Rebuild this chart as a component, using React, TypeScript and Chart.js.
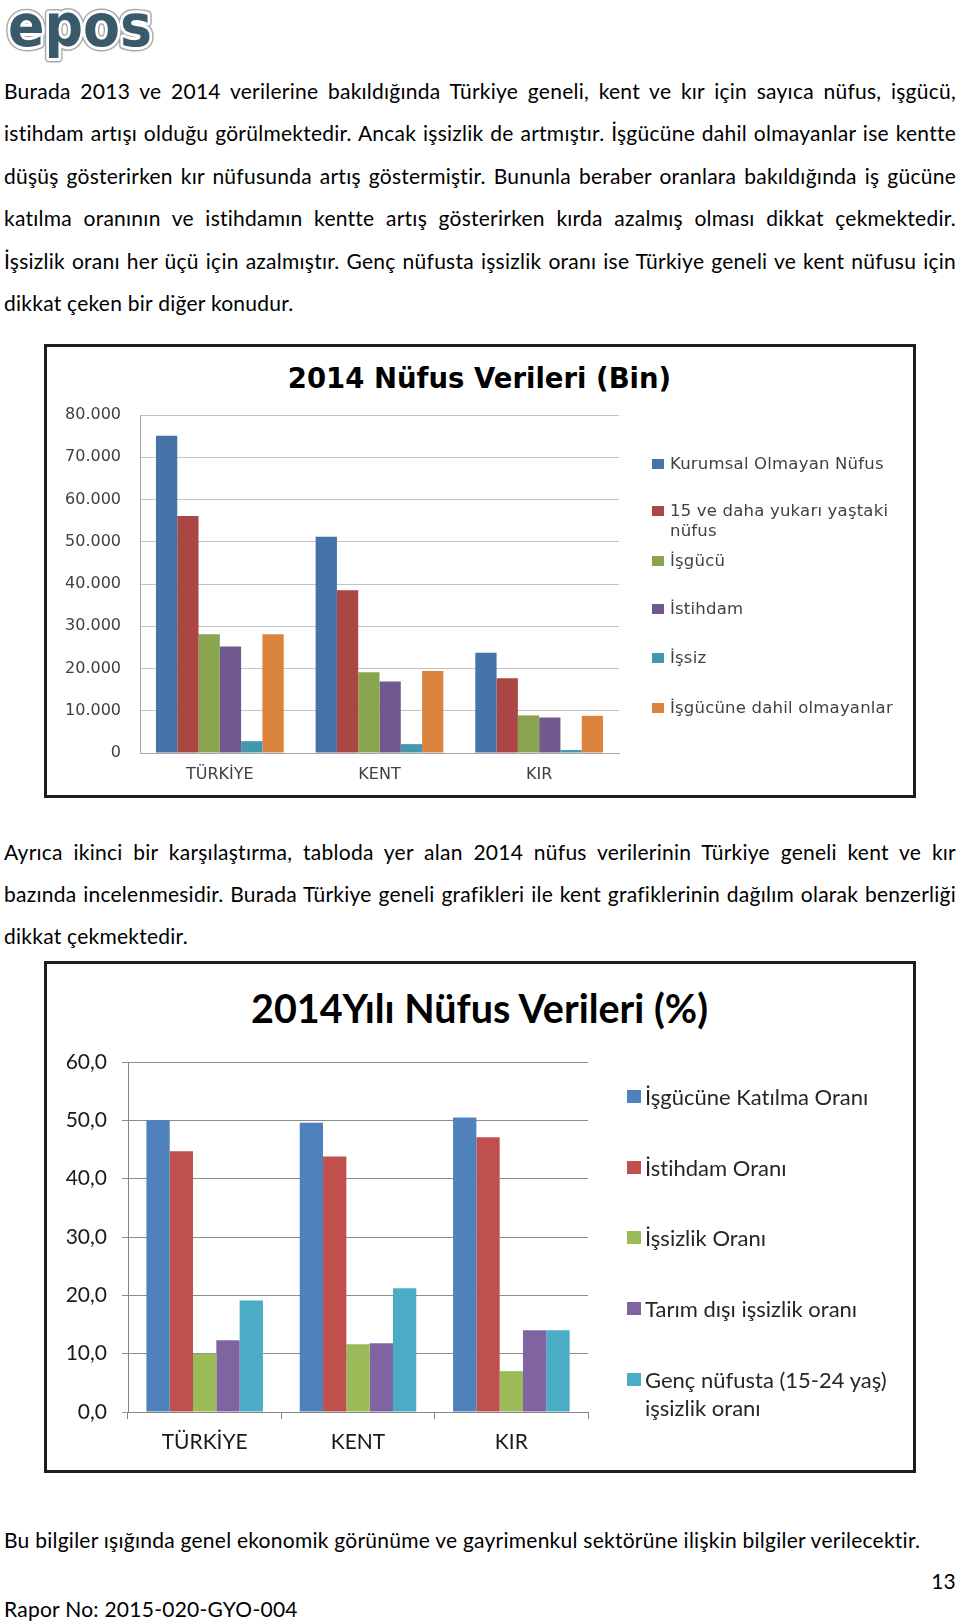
import React, { useEffect, useRef } from "react";
import { Chart, registerables } from "chart.js";

Chart.register(...registerables);

// ---------- Data ----------
const categories = ["TÜRKİYE", "KENT", "KIR"];

// Chart 1: 2014 Nüfus Verileri (Bin)
const popLabels = [
  "Kurumsal Olmayan Nüfus",
  "15 ve daha yukarı yaştaki nüfus",
  "İşgücü",
  "İstihdam",
  "İşsiz",
  "İşgücüne dahil olmayanlar",
];
const popLegendLines = [
  ["Kurumsal Olmayan Nüfus"],
  ["15 ve daha yukarı yaştaki", "nüfus"],
  ["İşgücü"],
  ["İstihdam"],
  ["İşsiz"],
  ["İşgücüne dahil olmayanlar"],
];
const kurumsalOlmayan = [75100, 51200, 23700];
const onbesYukari = [56100, 38500, 17700];
const isgucu = [28100, 19100, 8900];
const istihdam = [25200, 16900, 8400];
const issiz = [2800, 2100, 700];
const isgucuDisi = [28100, 19400, 8800];
const popColors = ["#4572A7", "#AA4643", "#89A54E", "#71588F", "#4198AF", "#DB843D"];
const popTicks = [0, 10000, 20000, 30000, 40000, 50000, 60000, 70000, 80000];

// Chart 2: 2014Yılı Nüfus Verileri (%)
const rateLabels = [
  "İşgücüne Katılma Oranı",
  "İstihdam Oranı",
  "İşsizlik Oranı",
  "Tarım dışı işsizlik oranı",
  "Genç nüfusta (15-24 yaş) işsizlik oranı",
];
const rateLegendLines = [
  ["İşgücüne Katılma Oranı"],
  ["İstihdam Oranı"],
  ["İşsizlik Oranı"],
  ["Tarım dışı işsizlik oranı"],
  ["Genç nüfusta (15-24 yaş)", "işsizlik oranı"],
];
const katilmaOrani = [50.0, 49.6, 50.5];
const istihdamOrani = [44.7, 43.8, 47.1];
const issizlikOrani = [10.0, 11.6, 7.0];
const tarimDisiOrani = [12.3, 11.8, 14.0];
const gencOrani = [19.1, 21.2, 14.0];
const rateColors = ["#4F81BD", "#C0504D", "#9BBB59", "#8064A2", "#4BACC6"];

const para1 = [
  "Burada 2013 ve 2014 verilerine bakıldığında Türkiye geneli, kent ve kır için sayıca nüfus, işgücü,",
  "istihdam artışı olduğu görülmektedir. Ancak işsizlik de artmıştır. İşgücüne dahil olmayanlar ise kentte",
  "düşüş gösterirken kır nüfusunda artış göstermiştir. Bununla beraber oranlara bakıldığında iş gücüne",
  "katılma oranının ve istihdamın kentte artış gösterirken kırda azalmış olması dikkat çekmektedir.",
  "İşsizlik oranı her üçü için azalmıştır. Genç nüfusta işsizlik oranı ise Türkiye geneli ve kent nüfusu için",
  "dikkat çeken bir diğer konudur.",
];
const para2 = [
  "Ayrıca ikinci bir karşılaştırma, tabloda yer alan 2014 nüfus verilerinin Türkiye geneli kent ve kır",
  "bazında incelenmesidir. Burada Türkiye geneli grafikleri ile kent grafiklerinin dağılım olarak benzerliği",
  "dikkat çekmektedir.",
];
const para3 = "Bu bilgiler ışığında genel ekonomik görünüme ve gayrimenkul sektörüne ilişkin bilgiler verilecektir.";

const TEXT_FONT = "Lato, 'Open Sans', sans-serif";

const textStyle: React.CSSProperties = {
  fontFamily: TEXT_FONT,
  fontSize: 21,
  letterSpacing: "0.25px",
  fontVariantLigatures: "none",
  color: "#000",
  whiteSpace: "nowrap",
};

function TextLine({ text, center, justify }: { text: string; center: number; justify: boolean }) {
  return (
    <div
      style={{
        ...textStyle,
        position: "absolute",
        left: 4,
        width: 952,
        top: center - 13,
        height: 26,
        lineHeight: "26px",
        textAlign: justify ? "justify" : "left",
        textAlignLast: justify ? "justify" : "left",
      } as React.CSSProperties}
    >
      {text}
    </div>
  );
}

function PopChart() {
  const ref = useRef<HTMLCanvasElement>(null);
  useEffect(() => {
    const series = [kurumsalOlmayan, onbesYukari, isgucu, istihdam, issiz, isgucuDisi];
    const chart = new Chart(ref.current!, {
      type: "bar",
      data: {
        labels: categories,
        datasets: series.map((d, i) => ({
          label: popLabels[i],
          data: d,
          backgroundColor: popColors[i],
          borderWidth: 0,
        })),
      },
      options: {
        animation: false,
        responsive: false,
        maintainAspectRatio: false,
        layout: { padding: { left: 0, right: 293, top: 68, bottom: 0 } },
        datasets: { bar: { categoryPercentage: 0.8, barPercentage: 1.0 } },
        plugins: { legend: { display: false }, title: { display: false }, tooltip: { enabled: false } },
        scales: {
          x: {
            grid: { display: false, drawTicks: false },
            border: { display: true, color: "#a6a6a6", width: 1 },
            ticks: { padding: 12, color: "#404040", font: { family: "DejaVu Sans", size: 16 } },
            afterFit: (s: any) => {
              s.height = 41;
            },
          },
          y: {
            min: 0,
            max: 80000,
            afterBuildTicks: (s: any) => {
              s.ticks = popTicks.map((v) => ({ value: v }));
            },
            grid: { color: "#c4c4c4", drawTicks: false },
            border: { display: true, color: "#a6a6a6", width: 1 },
            ticks: {
              padding: 19,
              color: "#404040",
              font: { family: "DejaVu Sans", size: 16 },
              callback: (v: any) => (v === 0 ? "0" : `${v / 1000}.000`),
            },
            afterFit: (s: any) => {
              s.width = 93;
            },
          },
        },
      },
    });
    return () => chart.destroy();
  }, []);
  return (
    <canvas
      ref={ref}
      width={865}
      height={447}
      style={{ position: "absolute", left: 47, top: 347, width: 865, height: 447 }}
    />
  );
}

function RateChart() {
  const ref = useRef<HTMLCanvasElement>(null);
  useEffect(() => {
    const series = [katilmaOrani, istihdamOrani, issizlikOrani, tarimDisiOrani, gencOrani];
    const chart = new Chart(ref.current!, {
      type: "bar",
      data: {
        labels: categories,
        datasets: series.map((d, i) => ({
          label: rateLabels[i],
          data: d,
          backgroundColor: rateColors[i],
          borderWidth: 0,
        })),
      },
      options: {
        animation: false,
        responsive: false,
        maintainAspectRatio: false,
        layout: { padding: { left: 0, right: 324, top: 98, bottom: 0 } },
        datasets: { bar: { categoryPercentage: 0.76, barPercentage: 1.0 } },
        plugins: { legend: { display: false }, title: { display: false }, tooltip: { enabled: false } },
        scales: {
          x: {
            grid: { display: true, drawOnChartArea: false, drawTicks: true, tickLength: 7, color: "#868686", offset: true },
            border: { display: true, color: "#868686", width: 1 },
            ticks: { padding: 11, color: "#1a1a1a", font: { family: "Lato", size: 21 } },
            afterFit: (s: any) => {
              s.height = 57;
            },
          },
          y: {
            min: 0,
            max: 60,
            ticks: {
              stepSize: 10,
              padding: 15,
              color: "#1a1a1a",
              font: { family: "Lato", size: 21 },
              callback: (v: any) => Number(v).toFixed(1).replace(".", ","),
            },
            grid: { color: "#8c8c8c", drawTicks: true, tickLength: 6 },
            border: { display: true, color: "#868686", width: 1 },
            afterFit: (s: any) => {
              s.width = 81;
            },
          },
        },
      },
    });
    return () => chart.destroy();
  }, []);
  return (
    <canvas
      ref={ref}
      width={865}
      height={505}
      style={{ position: "absolute", left: 47, top: 964, width: 865, height: 505 }}
    />
  );
}

function Logo() {
  const common = {
    x: 8,
    y: 46,
    fontFamily: "DejaVu Sans",
    fontWeight: 700,
    fontSize: 58,
    textLength: 144,
    lengthAdjust: "spacingAndGlyphs",
  } as any;
  return (
    <svg style={{ position: "absolute", left: 0, top: 0 }} width={170} height={70}>
      <text {...common} fill="#3a5a6b" stroke="#a8a8a8" strokeWidth={9} strokeLinejoin="round">
        epos
      </text>
      <text {...common} fill="#3a5a6b" stroke="#ffffff" strokeWidth={6} strokeLinejoin="round">
        epos
      </text>
      <text {...common} fill="#3a5a6b">
        epos
      </text>
    </svg>
  );
}

export default function App() {
  const p1Centers = para1.map((_, i) => 91 + i * 42.4);
  const p2Centers = para2.map((_, i) => 852.4 + i * 41.9);
  const legend1Centers = [463.5, 511, 560.7, 609.3, 658, 707.6];
  const legend2Centers = [1096.6, 1168, 1238.3, 1308.7, 1380];
  return (
    <div
      style={{
        position: "absolute",
        left: 0,
        top: 0,
        width: 960,
        height: 1622,
        background: "#fff",
        overflow: "hidden",
      }}
    >
      <Logo />
      {para1.map((t, i) => (
        <TextLine key={"p1" + i} text={t} center={p1Centers[i]} justify={i < para1.length - 1} />
      ))}

      {/* Chart 1 frame */}
      <div
        style={{
          position: "absolute",
          left: 44,
          top: 344,
          width: 872,
          height: 454,
          boxSizing: "border-box",
          border: "3px solid #1e1e1e",
        }}
      />
      <div
        style={{
          position: "absolute",
          left: 47,
          width: 865,
          top: 361,
          height: 34,
          lineHeight: "34px",
          textAlign: "center",
          fontFamily: "'DejaVu Sans', sans-serif",
          fontWeight: 700,
          fontSize: 27.5,
          color: "#000",
        }}
      >
        2014 Nüfus Verileri (Bin)
      </div>
      <PopChart />
      {popLegendLines.map((lines, i) => (
        <div key={"l1" + i}>
          <div
            style={{
              position: "absolute",
              left: 652,
              top: legend1Centers[i] - 5,
              width: 12,
              height: 10,
              background: popColors[i],
            }}
          />
          {lines.map((ln, j) => (
            <div
              key={j}
              style={{
                position: "absolute",
                left: 670,
                top: legend1Centers[i] - 10 + j * 20,
                height: 20,
                lineHeight: "20px",
                fontFamily: "'DejaVu Sans', sans-serif",
                fontSize: 16.5,
                letterSpacing: "0.2px",
                color: "#404040",
                whiteSpace: "nowrap",
              }}
            >
              {ln}
            </div>
          ))}
        </div>
      ))}

      {para2.map((t, i) => (
        <TextLine key={"p2" + i} text={t} center={p2Centers[i]} justify={i < para2.length - 1} />
      ))}

      {/* Chart 2 frame */}
      <div
        style={{
          position: "absolute",
          left: 44,
          top: 961,
          width: 872,
          height: 512,
          boxSizing: "border-box",
          border: "3px solid #1e1e1e",
        }}
      />
      <div
        style={{
          position: "absolute",
          left: 47,
          width: 865,
          top: 985,
          height: 46,
          lineHeight: "46px",
          textAlign: "center",
          fontFamily: TEXT_FONT,
          fontWeight: 700,
          fontSize: 39.5,
          color: "#000",
          fontVariantLigatures: "none",
        } as React.CSSProperties}
      >
        2014Yılı Nüfus Verileri (%)
      </div>
      <RateChart />
      {rateLegendLines.map((lines, i) => (
        <div key={"l2" + i}>
          <div
            style={{
              position: "absolute",
              left: 627,
              top: legend2Centers[i] - 7,
              width: 14,
              height: 13,
              background: rateColors[i],
            }}
          />
          {lines.map((ln, j) => (
            <div
              key={j}
              style={{
                position: "absolute",
                left: 645,
                top: legend2Centers[i] - 14 + j * 28,
                height: 28,
                lineHeight: "28px",
                fontFamily: TEXT_FONT,
                fontSize: 22,
                color: "#262626",
                whiteSpace: "nowrap",
                fontVariantLigatures: "none",
              } as React.CSSProperties}
            >
              {ln}
            </div>
          ))}
        </div>
      ))}

      <TextLine text={para3} center={1540.4} justify={false} />
      <div
        style={{
          ...textStyle,
          position: "absolute",
          right: 4,
          top: 1581 - 13,
          height: 26,
          lineHeight: "26px",
        }}
      >
        13
      </div>
      <div
        style={{
          ...textStyle,
          position: "absolute",
          left: 4,
          top: 1608.6 - 13,
          height: 26,
          lineHeight: "26px",
        }}
      >
        Rapor No: 2015-020-GYO-004
      </div>
    </div>
  );
}
